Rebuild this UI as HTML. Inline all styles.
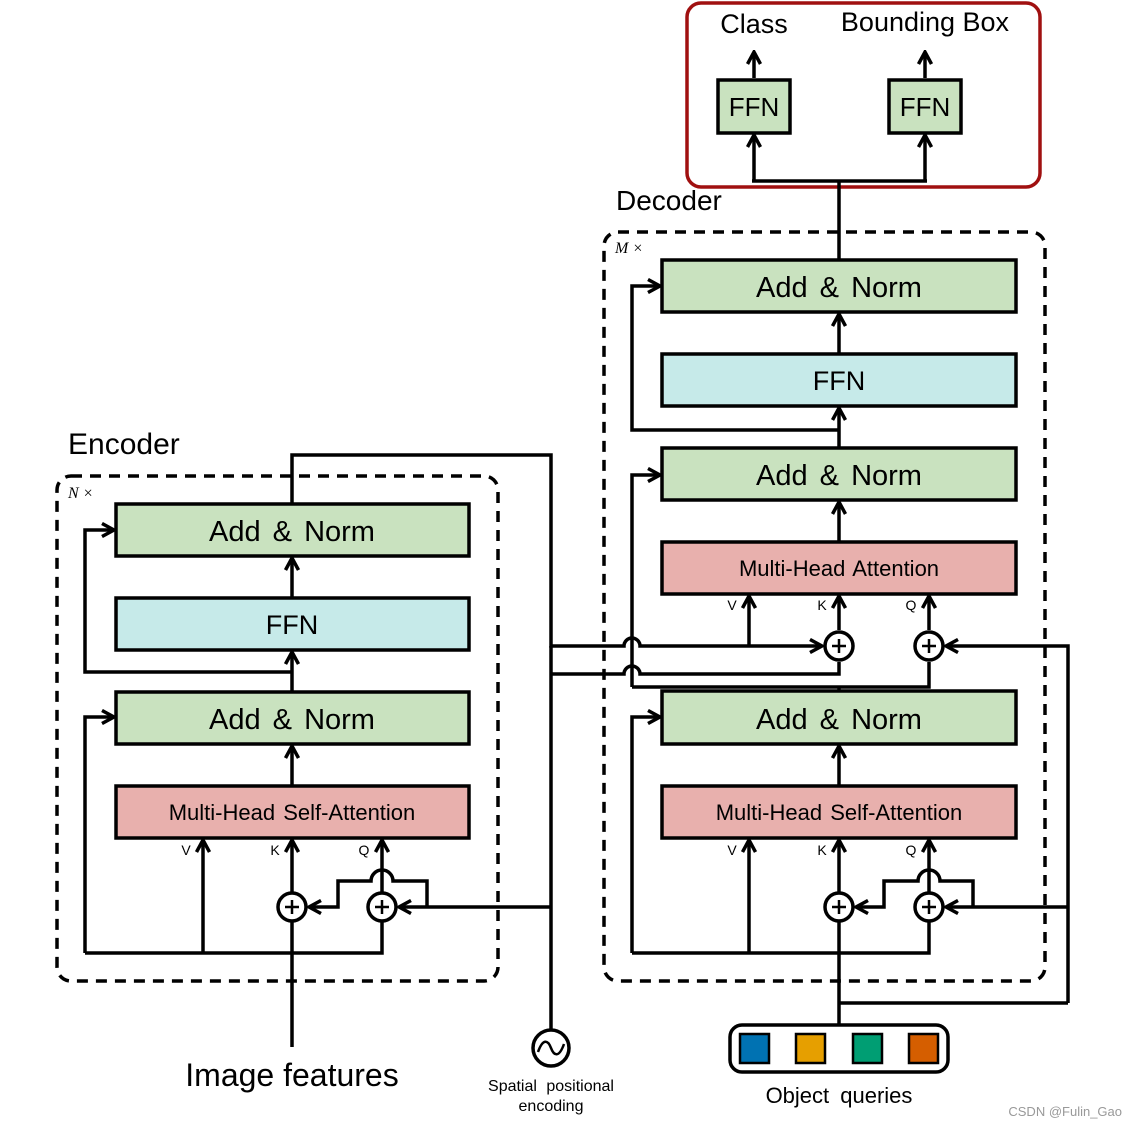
<!DOCTYPE html>
<html><head><meta charset="utf-8"><style>
html,body{margin:0;padding:0;background:#fff;}
svg{display:block;font-family:"Liberation Sans","DejaVu Sans",sans-serif;}
</style></head><body>
<svg width="1137" height="1128" viewBox="0 0 1137 1128" xmlns="http://www.w3.org/2000/svg">
<defs>
<marker id="a" viewBox="0 0 16 16" refX="14" refY="8" markerWidth="16" markerHeight="16" markerUnits="userSpaceOnUse" orient="auto">
<path d="M2,1.5 L14,8 L2,14.5" fill="none" stroke="#000" stroke-width="3.5" stroke-linejoin="miter"/>
</marker>
</defs>
<rect width="1137" height="1128" fill="#fff"/>

<rect x="687" y="3" width="353" height="184" rx="14" fill="none" stroke="#a01010" stroke-width="3.5"/>
<text x="754" y="33" font-size="27" text-anchor="middle">Class</text>
<text x="925" y="31" font-size="27" text-anchor="middle">Bounding Box</text>
<rect x="718" y="80" width="72" height="53" fill="#c9e2bf" stroke="#000" stroke-width="3.5"/>
<rect x="889" y="80" width="72" height="53" fill="#c9e2bf" stroke="#000" stroke-width="3.5"/>
<text x="754" y="116" font-size="26" text-anchor="middle">FFN</text>
<text x="925" y="116" font-size="26" text-anchor="middle">FFN</text>
<g stroke="#000" stroke-width="3.5" fill="none">
<path d="M754,78 V52" marker-end="url(#a)"/>
<path d="M925,78 V52" marker-end="url(#a)"/>
<path d="M754,181 V135" marker-end="url(#a)"/>
<path d="M925,181 V135" marker-end="url(#a)"/>
<path d="M752,181 H927"/>
<path d="M839,181 V260"/>
</g>

<text x="616" y="210" font-size="28">Decoder</text>
<text x="68" y="454" font-size="30">Encoder</text>
<text x="615" y="253" font-size="16" font-style="italic" font-family="Liberation Serif,serif">M ×</text>
<text x="68" y="498" font-size="16" font-style="italic" font-family="Liberation Serif,serif">N ×</text>

<rect x="57" y="476" width="441" height="505" rx="14" fill="none" stroke="#000" stroke-width="3.5" stroke-dasharray="11,8"/>
<rect x="604" y="232" width="441" height="749" rx="14" fill="none" stroke="#000" stroke-width="3.5" stroke-dasharray="11,8"/>

<g stroke="#000" stroke-width="3.5">
<rect x="116" y="504" width="353" height="52" fill="#c9e2bf"/>
<rect x="116" y="598" width="353" height="52" fill="#c6eae9"/>
<rect x="116" y="692" width="353" height="52" fill="#c9e2bf"/>
<rect x="116" y="786" width="353" height="52" fill="#e8b0ad"/>
<rect x="662" y="260" width="354" height="52" fill="#c9e2bf"/>
<rect x="662" y="354" width="354" height="52" fill="#c6eae9"/>
<rect x="662" y="448" width="354" height="52" fill="#c9e2bf"/>
<rect x="662" y="542" width="354" height="52" fill="#e8b0ad"/>
<rect x="662" y="691" width="354" height="53" fill="#c9e2bf"/>
<rect x="662" y="786" width="354" height="52" fill="#e8b0ad"/>
</g>
<g font-size="29" text-anchor="middle" word-spacing="4">
<text x="292" y="541">Add &amp; Norm</text>
<text x="292" y="634" font-size="27">FFN</text>
<text x="292" y="729">Add &amp; Norm</text>
<text x="292" y="820" font-size="22" word-spacing="2">Multi-Head Self-Attention</text>
<text x="839" y="297">Add &amp; Norm</text>
<text x="839" y="390" font-size="27">FFN</text>
<text x="839" y="485">Add &amp; Norm</text>
<text x="839" y="576" font-size="22" word-spacing="2">Multi-Head Attention</text>
<text x="839" y="729">Add &amp; Norm</text>
<text x="839" y="820" font-size="22" word-spacing="2">Multi-Head Self-Attention</text>
</g>
<g font-size="14" text-anchor="middle">
<text x="186" y="855">V</text><text x="275" y="855">K</text><text x="364" y="855">Q</text>
<text x="732" y="855">V</text><text x="822" y="855">K</text><text x="911" y="855">Q</text>
<text x="732" y="610">V</text><text x="822" y="610">K</text><text x="911" y="610">Q</text>
</g>

<g stroke="#000" stroke-width="3.5" fill="none">
<path d="M292,1047 V922"/>
<path d="M292,892 V840" marker-end="url(#a)"/>
<path d="M203,953 V840" marker-end="url(#a)"/>
<path d="M382,892 V840" marker-end="url(#a)"/>
<path d="M85,953 H382 V922"/>
<path d="M85,953 V717 H114" marker-end="url(#a)"/>
<path d="M292,786 V746" marker-end="url(#a)"/>
<path d="M292,692 V652" marker-end="url(#a)"/>
<path d="M292,598 V558" marker-end="url(#a)"/>
<path d="M292,672 H85 V530 H114" marker-end="url(#a)"/>
<path d="M551,907 H399" marker-end="url(#a)"/>
<path d="M427,907 V881 H393 A11,11 0 0 0 371,881 H338 V907 H309" marker-end="url(#a)"/>
<path d="M292,504 V455 H551 V646 H624 A8,8 0 0 1 640,646 H822" marker-end="url(#a)"/>
<path d="M551,646 V1030"/>
<path d="M551,674 H624 A8,8 0 0 1 640,674 H839 V662"/>
<path d="M749,646 V596" marker-end="url(#a)"/>
<path d="M839,630 V596" marker-end="url(#a)"/>
<path d="M929,630 V596" marker-end="url(#a)"/>
<path d="M839,691 V687 M632,687 H929 V662"/>
<path d="M632,687 V475 H660" marker-end="url(#a)"/>
<path d="M1068,1003 V646 H946" marker-end="url(#a)"/>
<path d="M839,542 V502" marker-end="url(#a)"/>
<path d="M839,448 V408" marker-end="url(#a)"/>
<path d="M839,354 V314" marker-end="url(#a)"/>
<path d="M839,430 H632 V286 H660" marker-end="url(#a)"/>
<path d="M839,1025 V922"/>
<path d="M839,1003 H1068"/>
<path d="M839,892 V840" marker-end="url(#a)"/>
<path d="M749,953 V840" marker-end="url(#a)"/>
<path d="M929,892 V840" marker-end="url(#a)"/>
<path d="M632,953 H929 V922"/>
<path d="M632,953 V717 H660" marker-end="url(#a)"/>
<path d="M839,786 V746" marker-end="url(#a)"/>
<path d="M1068,907 H946" marker-end="url(#a)"/>
<path d="M973,907 V881 H940 A11,11 0 0 0 918,881 H884 V907 H856" marker-end="url(#a)"/>
</g>

<g stroke="#000" stroke-width="3.5" fill="#fff">
<circle cx="292" cy="907" r="14"/><circle cx="382" cy="907" r="14"/>
<circle cx="839" cy="907" r="14"/><circle cx="929" cy="907" r="14"/>
<circle cx="839" cy="646" r="14"/><circle cx="929" cy="646" r="14"/>
</g>
<g stroke="#000" stroke-width="2.5">
<path d="M285,907 H299 M292,900 V914 M375,907 H389 M382,900 V914 M832,907 H846 M839,900 V914 M922,907 H936 M929,900 V914 M832,646 H846 M839,639 V653 M922,646 H936 M929,639 V653"/>
</g>

<circle cx="551" cy="1048" r="18" fill="#fff" stroke="#000" stroke-width="3.5"/>
<path d="M538,1052 C543,1038 548,1040 551,1048 C554,1056 559,1058 564,1044" fill="none" stroke="#000" stroke-width="2.5"/>
<text x="551" y="1091" font-size="16" text-anchor="middle" word-spacing="5">Spatial positional</text>
<text x="551" y="1111" font-size="16" text-anchor="middle">encoding</text>

<text x="292" y="1086" font-size="32" text-anchor="middle">Image features</text>

<rect x="730" y="1025" width="218" height="47" rx="12" fill="#fff" stroke="#000" stroke-width="3.5"/>
<g stroke="#000" stroke-width="2.5">
<rect x="740" y="1034" width="29" height="29" fill="#0072b2"/>
<rect x="796" y="1034" width="29" height="29" fill="#e69f00"/>
<rect x="853" y="1034" width="29" height="29" fill="#009e73"/>
<rect x="909" y="1034" width="29" height="29" fill="#d55e00"/>
</g>
<text x="839" y="1103" font-size="22" text-anchor="middle" word-spacing="5">Object queries</text>

<text x="1122" y="1116" font-size="13" fill="#999" text-anchor="end">CSDN @Fulin_Gao</text>
</svg>
</body></html>
